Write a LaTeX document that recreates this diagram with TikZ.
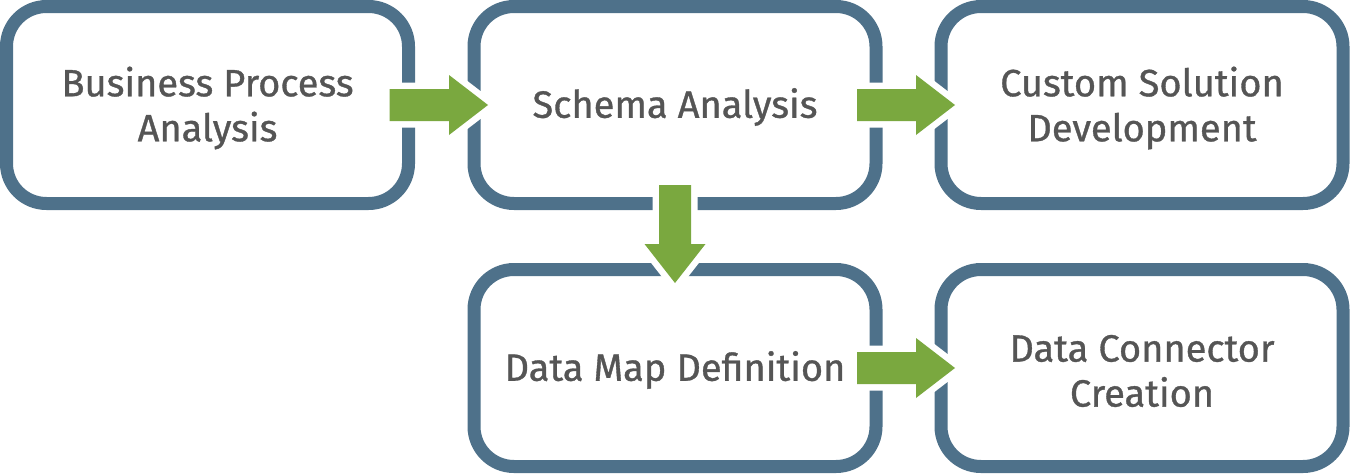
\documentclass[tikz,border=0pt]{standalone}
\usepackage{fontspec}
\setmainfont[FakeBold=0.9]{Fira Sans}
\usetikzlibrary{calc}
\definecolor{boxblue}{HTML}{4E718A}
\definecolor{arrgreen}{HTML}{7AA83F}
\definecolor{txtgray}{HTML}{555555}
\tikzset{
  stage/.style={draw=boxblue, line width=13pt, rounded corners=40pt, fill=white,
    minimum width=402pt, minimum height=197pt, outer sep=0pt, inner sep=0pt},
  lbl/.style={align=center, text=txtgray, font=\fontsize{38}{45}\selectfont, inner sep=0pt},
  blockarr/.style={fill=arrgreen, preaction={draw=white, line width=13pt, fill=white}}
}
\begin{document}
\begin{tikzpicture}[x=1pt,y=-1pt]
\useasboundingbox (0,0) rectangle (1350,474);
\node[stage] (bpa) at (207.5,105) {};
\node[stage] (sa) at (675,105) {};
\node[stage] (csd) at (1142,105) {};
\node[stage] (dmd) at (675,368) {};
\node[stage] (dcc) at (1142,368) {};
\node[lbl] (bpat) at ([yshift=-3pt]bpa.center) {Business Process\\Analysis};
\node[lbl] (sat) at ([yshift=-2pt]sa.center) {Schema Analysis};
\node[lbl] (csdt) at ([yshift=-3pt]csd.center) {Custom Solution\\Development};
\node[lbl] (dmdt) at ([yshift=-2pt]dmd.center) {Data Map Definition};
\node[lbl] (dcct) at ([yshift=-3pt]dcc.center) {Data Connector\\Creation};
% horizontal block arrows
\foreach \a/\b in {bpa/sa, sa/csd, dmd/dcc}{
  \path[blockarr] ($(\a.east)+(-19,-16)$) -- ($(\b.west)+(-25,-16)$) -- ($(\b.west)+(-25,-30)$)
    -- ($(\b.west)+(14,0)$) -- ($(\b.west)+(-25,30)$) -- ($(\b.west)+(-25,16)$)
    -- ($(\a.east)+(-19,16)$) -- cycle;
}
% vertical block arrow
\path[blockarr] ($(sa.south)+(-16,-18.5)$) -- ($(dmd.north)+(-16,-25.5)$) -- ($(dmd.north)+(-30.5,-25.5)$)
  -- ($(dmd.north)+(0,13.5)$) -- ($(dmd.north)+(30.5,-25.5)$) -- ($(dmd.north)+(16,-25.5)$)
  -- ($(sa.south)+(16,-18.5)$) -- cycle;
\end{tikzpicture}
\end{document}
